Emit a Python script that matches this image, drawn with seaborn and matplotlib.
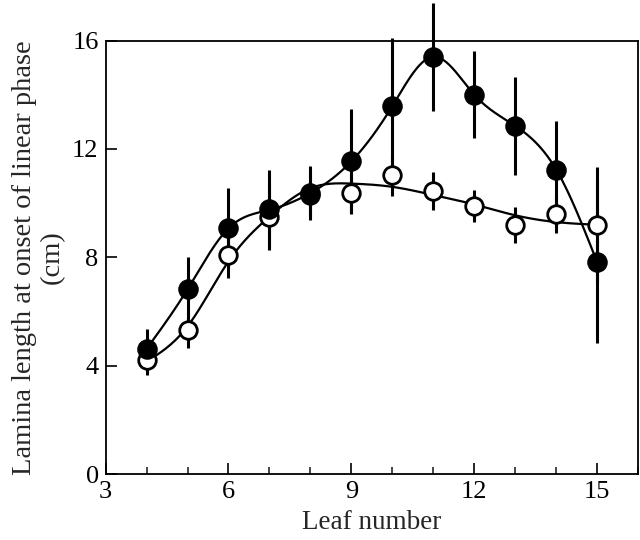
import matplotlib
matplotlib.use("Agg")
import matplotlib.pyplot as plt
import numpy as np
import pandas as pd
import seaborn as sns
from matplotlib.ticker import MultipleLocator

# Leaf positions and measured lamina length (cm), mean +/- error
leaf = [4, 5, 6, 7, 8, 9, 10, 11, 12, 13, 14, 15]
filled_mean = [4.62, 6.82, 9.07, 9.77, 10.37, 11.54, 13.58, 15.4, 14.0, 12.85, 11.24, 7.82]
filled_err = [0.72, 1.2, 1.48, 1.45, 1.0, 1.95, 2.5, 2.0, 1.6, 1.8, 1.8, 3.0]
open_mean = [4.21, 5.32, 8.09, 9.5, 10.3, 10.37, 11.02, 10.45, 9.9, 9.19, 9.6, 9.19]
open_err = [0.55, 0.68, 0.87, 1.23, 0.8, 0.75, 0.77, 0.7, 0.6, 0.67, 0.7, 2.15]

# fitted curves at each leaf position
filled_curve = [4.62, 6.82, 9.07, 9.75, 10.37, 11.54, 13.58, 15.4, 14.0, 12.85, 11.24, 7.82]
open_curve = [4.15, 5.45, 7.85, 9.5, 10.55, 10.72, 10.6, 10.3, 9.95, 9.55, 9.3, 9.2]


def natural_spline(xk, yk, xs):
    """Natural cubic spline through the knots, evaluated at xs."""
    xk = np.asarray(xk, float)
    yk = np.asarray(yk, float)
    n = len(xk)
    h = np.diff(xk)
    A = np.zeros((n, n))
    r = np.zeros(n)
    A[0, 0] = A[-1, -1] = 1
    for i in range(1, n - 1):
        A[i, i - 1] = h[i - 1]
        A[i, i] = 2 * (h[i - 1] + h[i])
        A[i, i + 1] = h[i]
        r[i] = 3 * ((yk[i + 1] - yk[i]) / h[i] - (yk[i] - yk[i - 1]) / h[i - 1])
    c = np.linalg.solve(A, r)
    b = (yk[1:] - yk[:-1]) / h - h * (2 * c[:-1] + c[1:]) / 3
    d = (c[1:] - c[:-1]) / (3 * h)
    idx = np.clip(np.searchsorted(xk, xs) - 1, 0, n - 2)
    t = xs - xk[idx]
    return yk[idx] + b[idx] * t + c[idx] * t ** 2 + d[idx] * t ** 3


sns.set_theme(style="ticks")
plt.rcParams["font.family"] = ["Liberation Serif", "DejaVu Serif"]

fig = plt.figure(figsize=(6.4, 5.4), dpi=100)
ax = fig.add_axes([0.165, 0.122, 0.832, 0.803])

xs = np.linspace(leaf[0], leaf[-1], 300)
curves = pd.DataFrame({
    "leaf": np.concatenate([xs, xs]),
    "length": np.concatenate([natural_spline(leaf, filled_curve, xs),
                              natural_spline(leaf, open_curve, xs)]),
    "series": ["filled"] * len(xs) + ["open"] * len(xs),
})

# error bars (no caps)
ax.errorbar(leaf, open_mean, yerr=open_err, fmt="none", ecolor="black",
            elinewidth=2.2, capsize=0, zorder=1, clip_on=False)
ax.errorbar(leaf, filled_mean, yerr=filled_err, fmt="none", ecolor="black",
            elinewidth=2.2, capsize=0, zorder=1, clip_on=False)

sns.lineplot(data=curves, x="leaf", y="length", units="series", estimator=None,
             color="black", linewidth=1.6, ax=ax, zorder=2, legend=False)

sns.scatterplot(x=leaf, y=open_mean, marker="o", s=160, facecolor="white",
                edgecolor="black", linewidth=2.0, ax=ax, zorder=3, clip_on=False)
sns.scatterplot(x=leaf, y=filled_mean, marker="o", s=190, color="black",
                edgecolor="black", linewidth=1.0, ax=ax, zorder=4, clip_on=False)

ax.set_xlim(3, 16)
ax.set_ylim(0, 16)
ax.xaxis.set_major_locator(MultipleLocator(3))
ax.xaxis.set_minor_locator(MultipleLocator(1))
ax.yaxis.set_major_locator(MultipleLocator(4))
ax.tick_params(axis="both", which="major", direction="in", length=8, width=1.2,
               labelsize=19, colors="black", pad=5)
ax.tick_params(axis="x", which="minor", direction="in", length=5, width=1.2)
ax.tick_params(top=False, right=False, which="both")

for side in ["left", "right", "top", "bottom"]:
    ax.spines[side].set_visible(True)
    ax.spines[side].set_linewidth(1.3)
    ax.spines[side].set_color("black")

ax.set_xlabel("Leaf number", fontsize=19.5, labelpad=5)
ax.set_ylabel("Lamina length at onset of linear phase\n(cm)", fontsize=20.5,
              labelpad=5, linespacing=1.15)

fig.savefig("out.png", dpi=100)
